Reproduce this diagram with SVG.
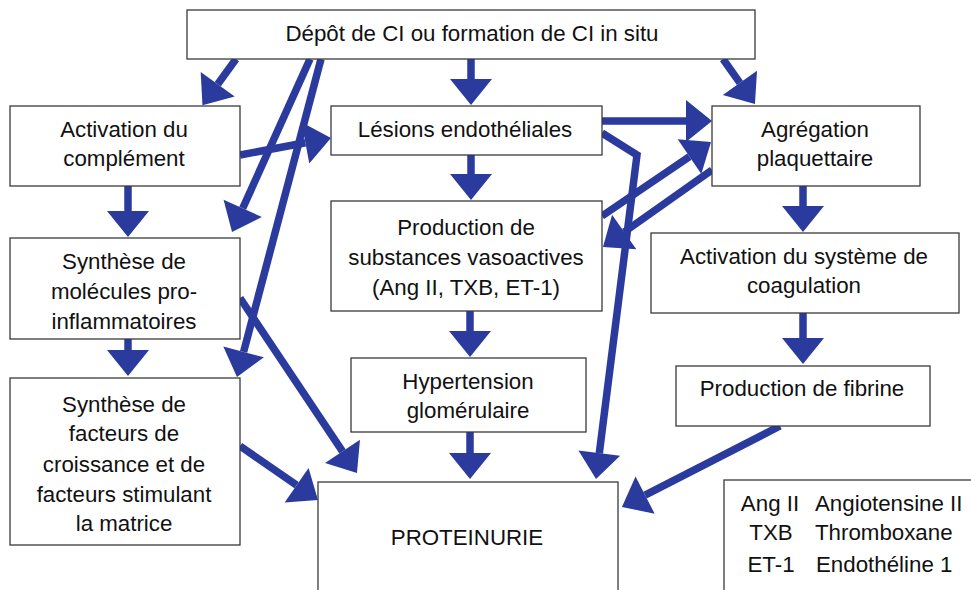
<svg xmlns="http://www.w3.org/2000/svg" width="971" height="590" viewBox="0 0 971 590">
<style>
.box{fill:#fff;stroke:#3a3a3a;stroke-width:1.3}
.t{font-family:"Liberation Sans",Arial,sans-serif;font-size:22.3px;fill:#111;text-anchor:middle}
.tl{font-family:"Liberation Sans",Arial,sans-serif;font-size:22.3px;fill:#111}
.c{fill:none;stroke:#2b3a9d;stroke-width:7.5;stroke-linejoin:miter;marker-end:url(#ah)}
</style>
<defs>
<marker id="ah" markerUnits="userSpaceOnUse" markerWidth="26" markerHeight="42" viewBox="0 0 26 42" refX="0" refY="21" orient="auto" overflow="visible">
<path d="M0,0 L26,21 L0,42 Z" fill="#2b3a9d"/>
</marker>
</defs>
<rect width="971" height="590" fill="#fff"/>
<g id="connectors">
<path class="c" d="M236,59 L217.7,84.3"/>
<path class="c" d="M471,59 L471,79"/>
<path class="c" d="M723,59 L739.9,82.8"/>
<path class="c" d="M310,59 L242.7,208.3"/>
<path class="c" d="M321,59 L243.6,351.9"/>
<path class="c" d="M240,155 L305.4,142.8"/>
<path class="c" d="M128,186 L128,211"/>
<path class="c" d="M128,339 L128,350"/>
<path class="c" d="M240,298 L342.5,451.4"/>
<path class="c" d="M240,446 L296.6,485.2"/>
<path class="c" d="M602,121 L686,121"/>
<path class="c" d="M602,133 L637,155 L599.3,453.2"/>
<path class="c" d="M602,216 L689.5,156.6"/>
<path class="c" d="M712,170 L624.2,232"/>
<path class="c" d="M803,186 L803,206"/>
<path class="c" d="M803,313 L803,338"/>
<path class="c" d="M471,155 L471,174"/>
<path class="c" d="M470,311 L470,331"/>
<path class="c" d="M470,432 L470,453"/>
<path class="c" d="M780,426 L645.1,495.1"/>
</g>
<g id="depot">
<rect class="box" x="187" y="10" width="568" height="49"/>
<text class="t" x="472" y="41">Dépôt de CI ou formation de CI in situ</text>
</g>
<g id="complement">
<rect class="box" x="10" y="106" width="230" height="80"/>
<text class="t" x="124" y="137">Activation du</text>
<text class="t" x="124" y="166">complément</text>
</g>
<g id="lesions">
<rect class="box" x="331" y="106" width="271" height="49"/>
<text class="t" x="465" y="137">Lésions endothéliales</text>
</g>
<g id="agregation">
<rect class="box" x="712" y="106" width="208" height="80"/>
<text class="t" x="815" y="137">Agrégation</text>
<text class="t" x="815" y="166">plaquettaire</text>
</g>
<g id="molecules">
<rect class="box" x="10" y="238" width="230" height="101"/>
<text class="t" x="124" y="269">Synthèse de</text>
<text class="t" x="124" y="299">molécules pro-</text>
<text class="t" x="124" y="329">inflammatoires</text>
</g>
<g id="vasoactives">
<rect class="box" x="331" y="201" width="271" height="110"/>
<text class="t" x="466" y="235">Production de</text>
<text class="t" x="466" y="265">substances vasoactives</text>
<text class="t" x="466" y="295">(Ang II, TXB, ET-1)</text>
</g>
<g id="coagulation">
<rect class="box" x="651" y="233" width="308" height="80"/>
<text class="t" x="804" y="264">Activation du système de</text>
<text class="t" x="804" y="293">coagulation</text>
</g>
<g id="facteurs">
<rect class="box" x="10" y="378" width="230" height="167"/>
<text class="t" x="124" y="412">Synthèse de</text>
<text class="t" x="124" y="441">facteurs de</text>
<text class="t" x="124" y="472">croissance et de</text>
<text class="t" x="124" y="502">facteurs stimulant</text>
<text class="t" x="124" y="531">la matrice</text>
</g>
<g id="hypertension">
<rect class="box" x="351" y="358" width="235" height="74"/>
<text class="t" x="468" y="389">Hypertension</text>
<text class="t" x="468" y="418">glomérulaire</text>
</g>
<g id="fibrine">
<rect class="box" x="676" y="366" width="254" height="60"/>
<text class="t" x="802" y="396">Production de fibrine</text>
</g>
<g id="proteinurie">
<rect class="box" x="318" y="482" width="300" height="130"/>
<text class="t" x="467" y="545">PROTEINURIE</text>
</g>
<g id="legende">
<rect class="box" x="724" y="480" width="270" height="130"/>
<text class="t" x="770" y="511">Ang II</text>
<text class="t" x="771" y="540">TXB</text>
<text class="t" x="771" y="572">ET-1</text>
<text class="tl" x="815" y="511">Angiotensine II</text>
<text class="tl" x="815" y="540">Thromboxane</text>
<text class="tl" x="816" y="572">Endothéline 1</text>
</g>
</svg>
